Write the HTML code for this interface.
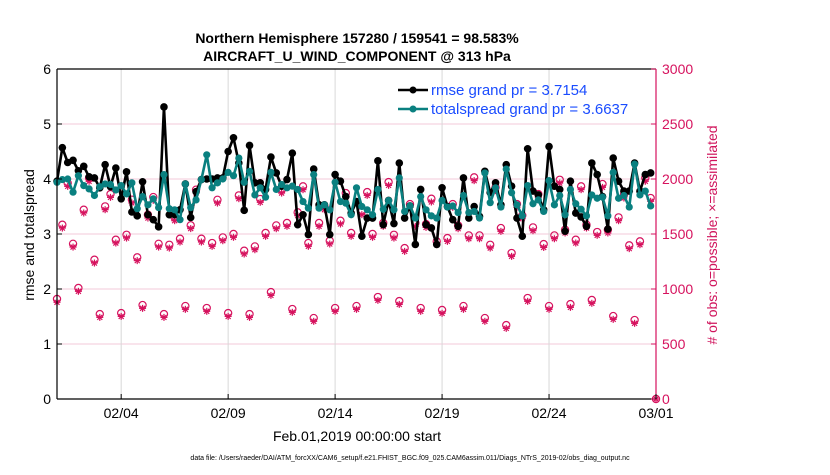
<!DOCTYPE html>
<html><head><meta charset="utf-8"><style>
body{margin:0;background:#fff;width:830px;height:470px;overflow:hidden;font-family:"Liberation Sans",sans-serif}
</style></head><body>
<svg id="chart" width="830" height="470" xmlns="http://www.w3.org/2000/svg" font-family="Liberation Sans, sans-serif">
<g id="grid"></g>
<g id="marks"></g>
<g id="axes"></g>
<text x="357" y="43" text-anchor="middle" font-size="14" font-weight="bold">Northern Hemisphere 157280 / 159541 = 98.583%</text>
<text x="357" y="61" text-anchor="middle" font-size="14" font-weight="bold">AIRCRAFT_U_WIND_COMPONENT @ 313 hPa</text>
<text transform="translate(34,235) rotate(-90)" text-anchor="middle" font-size="14">rmse and totalspread</text>
<text transform="translate(717,235) rotate(-90)" text-anchor="middle" font-size="14" fill="#d0145c"># of obs: o=possible; ×=assimilated</text>
<text x="357" y="441" text-anchor="middle" font-size="14">Feb.01,2019 00:00:00 start</text>
<text x="410" y="460" text-anchor="middle" font-size="7">data file: /Users/raeder/DAI/ATM_forcXX/CAM6_setup/f.e21.FHIST_BGC.f09_025.CAM6assim.011/Diags_NTrS_2019-02/obs_diag_output.nc</text>
<g>
<line x1="398" y1="90" x2="428" y2="90" stroke="#000" stroke-width="2.5"/>
<circle cx="413" cy="90" r="3.5" fill="#000"/>
<text x="431" y="95" font-size="15" fill="#1a4cff">rmse grand pr = 3.7154</text>
<line x1="398" y1="109" x2="428" y2="109" stroke="#0a8080" stroke-width="2.5"/>
<circle cx="413" cy="109" r="3.5" fill="#0a8080"/>
<text x="431" y="114" font-size="15" fill="#1a4cff">totalspread grand pr = 3.6637</text>
</g>
</svg>
<script>
const xTickLabels=["02/04","02/09","02/14","02/19","02/24","03/01"];
const xTickDays=[3,8,13,18,23,28];
const yLeftTicks=[0,1,2,3,4,5,6];
const yRightTicks=[0,500,1000,1500,2000,2500,3000];
const rmse=[3.96,4.57,4.30,4.34,4.15,4.23,4.04,4.02,3.84,4.26,3.86,4.20,3.64,4.13,3.40,3.33,3.95,3.35,3.26,3.13,5.31,3.35,3.35,3.44,3.91,3.30,3.77,3.99,4.00,4.00,4.02,4.02,4.50,4.75,4.29,3.43,4.61,3.93,3.93,3.81,4.40,4.11,3.87,3.99,4.47,3.17,3.35,2.99,4.18,3.53,3.53,2.99,4.08,3.96,3.68,3.38,3.59,2.96,3.29,3.29,4.33,3.17,3.61,3.19,4.29,3.29,3.51,2.81,3.81,3.17,3.11,2.81,3.84,3.50,3.26,3.14,4.02,3.29,3.50,3.32,4.14,3.75,3.93,3.53,4.26,3.87,3.29,2.96,4.55,3.78,3.71,3.44,4.59,3.87,3.81,3.05,3.96,3.38,3.31,3.14,4.29,4.08,3.68,3.09,4.38,3.96,3.78,3.78,4.29,3.78,4.08,4.11];
const totalspread=[3.94,3.99,4.00,3.76,4.06,3.88,3.82,3.70,3.86,3.91,3.90,3.80,3.88,3.73,3.93,3.46,3.68,3.53,3.64,3.48,4.08,3.46,3.44,3.26,3.91,3.48,3.62,3.99,4.44,3.84,3.93,4.00,4.12,4.06,4.38,3.94,4.14,3.71,3.84,3.67,4.12,3.81,3.90,3.84,3.87,3.81,3.59,3.47,4.08,3.47,3.53,3.44,3.94,3.59,3.56,3.35,3.84,3.50,3.44,3.35,3.81,3.45,3.61,3.44,4.02,3.41,3.51,3.29,3.68,3.44,3.33,3.29,3.61,3.49,3.51,3.39,3.70,3.39,3.41,3.29,4.11,3.57,3.84,3.49,4.18,3.75,3.53,3.33,3.88,3.55,3.62,3.41,3.97,3.53,3.70,3.35,3.81,3.55,3.45,3.33,3.71,3.65,3.67,3.33,4.12,3.65,3.70,3.49,4.27,3.71,3.78,3.51];
const possible=[909,1584,1963,1411,1009,1721,2009,1266,772,1751,1863,1448,781,1493,1812,1288,854,1675,1836,1411,772,1402,1651,1457,845,1579,1903,1457,827,1418,1811,1469,781,1500,1851,1348,772,1387,1818,1509,972,1578,1902,1600,818,1697,1933,1418,736,1600,1751,1439,827,1621,1872,1509,845,1706,1881,1500,927,1600,1972,1493,890,1372,1772,1600,827,1590,1821,1433,809,1463,1772,1578,845,1487,2015,1487,736,1402,1924,1554,672,1327,1772,1669,918,1560,1863,1408,845,1487,1993,1539,863,1448,1933,1584,900,1518,1954,1539,754,1651,1857,1397,718,1433,2009,1827,0];
const assimilated=[879,1554,1933,1381,979,1691,1979,1236,742,1721,1833,1418,751,1463,1782,1258,824,1645,1806,1381,742,1372,1621,1427,815,1549,1873,1427,797,1388,1781,1439,751,1470,1821,1318,742,1357,1788,1479,942,1548,1872,1570,788,1667,1903,1388,706,1570,1721,1409,797,1591,1842,1479,815,1676,1851,1470,897,1570,1942,1463,860,1342,1742,1570,797,1560,1791,1403,779,1433,1742,1548,815,1457,1985,1457,706,1372,1894,1524,642,1297,1742,1639,888,1530,1833,1378,815,1457,1963,1509,833,1418,1903,1554,870,1488,1924,1509,724,1621,1827,1367,688,1403,1979,1797,0];

const X0=57,X1=656,Y0=399,Y1=69,DAYS=28;
const NS="http://www.w3.org/2000/svg";
function xDay(d){return X0+(X1-X0)*d/DAYS;}
function xIdx(i){return xDay(i/4);}
function yL(v){return Y0-(Y0-Y1)*v/6;}
function yR(v){return Y0-(Y0-Y1)*v/3000;}
function mk(tag,attrs,parent){const e=document.createElementNS(NS,tag);for(const k in attrs)e.setAttribute(k,attrs[k]);parent.appendChild(e);return e;}
const grid=document.getElementById('grid'),marks=document.getElementById('marks'),axes=document.getElementById('axes');
const RED="#d6125e",TEAL="#0a8080";

yLeftTicks.forEach(v=>{if(v>0&&v<6){const l=mk('line',{x1:X0,x2:X1,y1:yL(v),y2:yL(v),stroke:'#f3c9da','stroke-width':1},grid);

}});
xTickDays.forEach(d=>{if(d<DAYS){const l=mk('line',{x1:xDay(d),x2:xDay(d),y1:Y1,y2:Y0,stroke:'#d8d8d8','stroke-width':1},grid);

}});

possible.forEach((v,i)=>{const c=mk('circle',{cx:xIdx(i),cy:yR(v),r:3.6,fill:'none',stroke:RED,'stroke-width':1.2},marks);

});
assimilated.forEach((v,i)=>{const x=xIdx(i),y=yR(v);const g=mk('g',{stroke:RED,'stroke-width':1.2},marks);


mk('line',{x1:x-3.5,x2:x+3.5,y1:y,y2:y},g);mk('line',{x1:x,x2:x,y1:y-3.5,y2:y+3.5},g);
mk('line',{x1:x-2.5,x2:x+2.5,y1:y-2.5,y2:y+2.5},g);mk('line',{x1:x-2.5,x2:x+2.5,y1:y+2.5,y2:y-2.5},g);});

function series(arr,color,name,r){
 const p=mk('polyline',{points:arr.map((v,i)=>xIdx(i)+','+yL(v)).join(' '),fill:'none',stroke:color,'stroke-width':2.6,'stroke-linejoin':'round'},marks);
 
 
 arr.forEach((v,i)=>{const c=mk('circle',{cx:xIdx(i),cy:yL(v),r:r,fill:color},marks);
 
 });
}
series(rmse,'#000','rmse',3.8);
series(totalspread,TEAL,'totalspread',3.6);

const b=[['top',X0,Y1,X1,Y1,'#000'],['bottom',X0,Y0,X1,Y0,'#000'],['left',X0,Y1,X0,Y0,'#000'],['right',X1,Y1,X1,Y0,RED]];
b.forEach(a=>{const l=mk('line',{x1:a[1],y1:a[2],x2:a[3],y2:a[4],stroke:a[5],'stroke-width':1.2},axes);

});
yLeftTicks.forEach(v=>{mk('line',{x1:X0,x2:X0+5,y1:yL(v),y2:yL(v),stroke:'#000'},axes);
const t=mk('text',{x:X0-6,y:yL(v)+5,'text-anchor':'end','font-size':14},axes);t.textContent=v;

});
yRightTicks.forEach(v=>{mk('line',{x1:X1-5,x2:X1,y1:yR(v),y2:yR(v),stroke:RED},axes);
const t=mk('text',{x:X1+6,y:yR(v)+5,'font-size':14,fill:RED},axes);t.textContent=v;

});
xTickDays.forEach((d,i)=>{mk('line',{x1:xDay(d),x2:xDay(d),y1:Y0,y2:Y0-5,stroke:'#000'},axes);
const t=mk('text',{x:xDay(d),y:418,'text-anchor':'middle','font-size':14},axes);t.textContent=xTickLabels[i];

});
</script>
</body></html>
